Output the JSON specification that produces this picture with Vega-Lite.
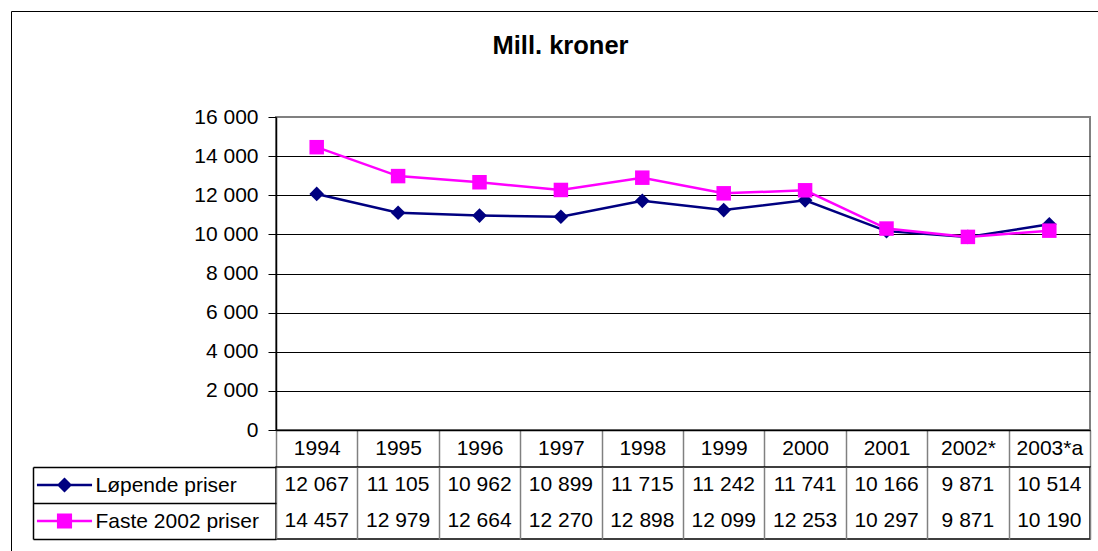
{
  "$schema": "https://vega.github.io/schema/vega-lite/v6.json",
  "padding": {"left": 10, "top": 10, "right": 0, "bottom": 0},
  "background": "white",
  "config": {
    "font": "Liberation Sans",
    "locale": {"number": {"decimal": ",", "thousands": " ", "grouping": [3], "currency": ["", " kr"]}},
    "axis": {"labelFont": "Liberation Sans", "labelColor": "black", "labelFontSize": 21, "title": null}
  },
  "title": {"text": "Mill. kroner", "fontSize": 25.5, "fontWeight": "bold", "font": "Liberation Sans", "color": "black", "anchor": "middle", "frame": "bounds", "offset": -49.5, "dx": -127},
  "datasets": {
    "prices": [
      {"year": "1994", "series": "Løpende priser", "value": 12067},
      {"year": "1995", "series": "Løpende priser", "value": 11105},
      {"year": "1996", "series": "Løpende priser", "value": 10962},
      {"year": "1997", "series": "Løpende priser", "value": 10899},
      {"year": "1998", "series": "Løpende priser", "value": 11715},
      {"year": "1999", "series": "Løpende priser", "value": 11242},
      {"year": "2000", "series": "Løpende priser", "value": 11741},
      {"year": "2001", "series": "Løpende priser", "value": 10166},
      {"year": "2002*", "series": "Løpende priser", "value": 9871},
      {"year": "2003*a", "series": "Løpende priser", "value": 10514},
      {"year": "1994", "series": "Faste 2002 priser", "value": 14457},
      {"year": "1995", "series": "Faste 2002 priser", "value": 12979},
      {"year": "1996", "series": "Faste 2002 priser", "value": 12664},
      {"year": "1997", "series": "Faste 2002 priser", "value": 12270},
      {"year": "1998", "series": "Faste 2002 priser", "value": 12898},
      {"year": "1999", "series": "Faste 2002 priser", "value": 12099},
      {"year": "2000", "series": "Faste 2002 priser", "value": 12253},
      {"year": "2001", "series": "Faste 2002 priser", "value": 10297},
      {"year": "2002*", "series": "Faste 2002 priser", "value": 9871},
      {"year": "2003*a", "series": "Faste 2002 priser", "value": 10190}
    ]
  },
  "bounds": "flush",
  "spacing": 37,
  "vconcat": [
    {
      "width": 814,
      "height": 313,
      "data": {"name": "prices"},
      "view": {"stroke": "#808080", "strokeWidth": 2},
      "resolve": {"scale": {"x": "independent", "y": "independent"}, "axis": {"x": "independent", "y": "independent"}},
      "layer": [
        {
          "encoding": {
            "x": {
              "field": "year", "type": "ordinal", "bandPosition": 0.5,
              "scale": {"type": "band", "domain": ["1994","1995","1996","1997","1998","1999","2000","2001","2002*","2003*a"], "paddingInner": 0, "paddingOuter": 0},
              "axis": {"orient": "bottom", "labelAngle": 0, "tickBand": "extent", "tickSize": 37, "tickColor": "#808080", "tickWidth": 1.5, "domainColor": "black", "domainWidth": 1.5, "labelPadding": -18.5, "labelBaseline": "middle", "grid": false}
            },
            "y": {
              "field": "value", "type": "quantitative",
              "scale": {"domain": [0, 16000], "nice": false, "zero": true},
              "axis": {"orient": "left", "values": [0, 2000, 4000, 6000, 8000, 10000, 12000, 14000, 16000], "format": ",d", "tickSize": 8, "tickColor": "black", "tickWidth": 1, "labelPadding": 10, "domainColor": "black", "domainWidth": 1.5, "grid": true, "gridColor": {"condition": {"test": "datum.value === 16000", "value": "#808080"}, "value": "black"}, "gridWidth": 1}
            }
          },
          "layer": [
            {"transform": [{"filter": "datum.series === 'Løpende priser'"}], "mark": {"type": "line", "color": "#000080", "strokeWidth": 2.5}},
            {"transform": [{"filter": "datum.series === 'Løpende priser'"}], "mark": {"type": "point", "shape": "diamond", "filled": true, "color": "#000080", "size": 215, "opacity": 1}},
            {"transform": [{"filter": "datum.series === 'Faste 2002 priser'"}], "mark": {"type": "line", "color": "#FF00FF", "strokeWidth": 2.5}},
            {"transform": [{"filter": "datum.series === 'Faste 2002 priser'"}], "mark": {"type": "point", "shape": "square", "filled": true, "color": "#FF00FF", "size": 210, "opacity": 1}}
          ]
        },
        {
          "mark": {"type": "point", "filled": true, "size": 0, "opacity": 1},
          "encoding": {
            "x": {
              "field": "year", "type": "ordinal",
              "scale": {"type": "band", "domain": ["1994","1995","1996","1997","1998","1999","2000","2001","2002*","2003*a"], "range": [-265, 823], "paddingInner": 0, "paddingOuter": 0},
              "axis": {"orient": "top", "offset": 106, "domain": true, "domainColor": "black", "domainWidth": 1, "ticks": false, "labels": false, "grid": false}
            },
            "y": {
              "field": "value", "type": "quantitative",
              "scale": {"domain": [0, 16000], "range": [435, -106], "nice": false, "zero": true},
              "axis": {"orient": "left", "offset": 265, "domain": true, "domainColor": "black", "domainWidth": 1, "ticks": false, "labels": false, "grid": false}
            },
            "color": {
              "field": "series", "type": "nominal",
              "scale": {"domain": ["Løpende priser", "Faste 2002 priser"], "range": ["#000080", "#FF00FF"]},
              "legend": {"orient": "none", "legendX": -229.5, "legendY": 350, "title": null, "labelExpr": "''", "symbolSize": 1296, "rowPadding": 10, "padding": 0, "symbolStrokeWidth": 0, "symbolOpacity": 1}
            },
            "shape": {
              "field": "series", "type": "nominal",
              "scale": {"domain": ["Løpende priser", "Faste 2002 priser"], "range": ["M-1.53,-0.067H1.53V0.067H-1.53Z M0,-0.42L0.42,0L0,0.42L-0.42,0Z", "M-1.53,-0.067H1.53V0.067H-1.53Z M-0.42,-0.42H0.42V0.42H-0.42Z"]},
              "legend": {"orient": "none", "legendX": -229.5, "legendY": 350, "title": null, "labelExpr": "''", "symbolSize": 1296, "rowPadding": 10, "padding": 0, "symbolStrokeWidth": 0, "symbolOpacity": 1}
            }
          }
        }
      ]
    },
    {
      "width": 814,
      "height": 72,
      "data": {"name": "prices"},
      "view": {"stroke": "black", "strokeWidth": 1.5},
      "mark": {"type": "text", "fontSize": 21, "font": "Liberation Sans", "color": "black", "baseline": "middle"},
      "encoding": {
        "x": {
          "field": "year", "type": "ordinal", "bandPosition": 0.5,
          "scale": {"type": "band", "domain": ["1994","1995","1996","1997","1998","1999","2000","2001","2002*","2003*a"], "paddingInner": 0, "paddingOuter": 0},
          "axis": {"orient": "top", "labels": false, "ticks": false, "domain": false, "grid": true, "tickBand": "extent", "gridColor": "#808080", "gridWidth": 1.5}
        },
        "y": {
          "field": "series", "type": "nominal",
          "scale": {"type": "band", "domain": ["Løpende priser", "Faste 2002 priser"], "paddingInner": 0, "paddingOuter": 0},
          "axis": {"orient": "left", "offset": 243, "domain": true, "domainColor": "black", "domainWidth": 1.5, "ticks": true, "tickBand": "extent", "tickSize": -243, "tickColor": "black", "tickWidth": 1.5, "labelAlign": "left", "labelPadding": 181, "labelBaseline": "middle", "grid": false}
        },
        "text": {"field": "value", "type": "quantitative", "format": ",d"}
      }
    }
  ]
}
